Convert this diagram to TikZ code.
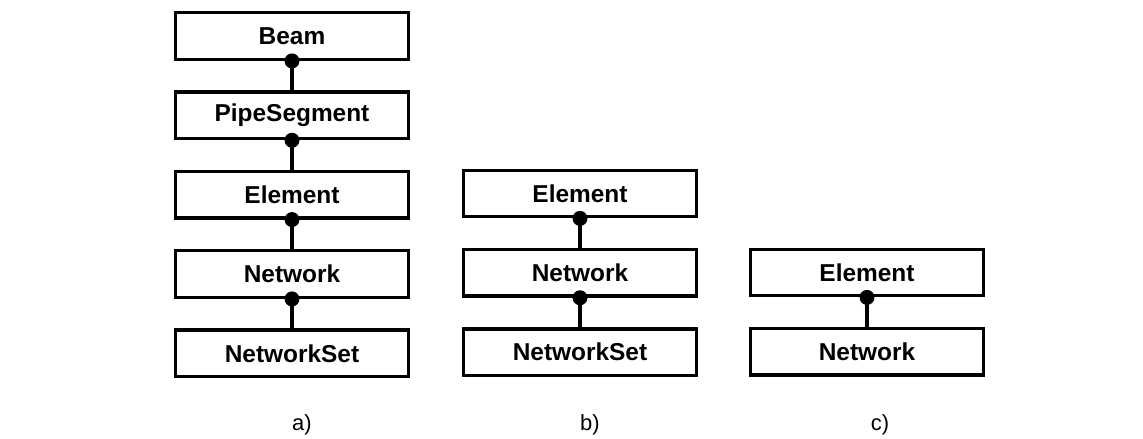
\documentclass[tikz,border=0pt]{standalone}
\usepackage{fontspec}
\setmainfont{Liberation Sans}
\usetikzlibrary{positioning}
\begin{document}
\begin{tikzpicture}[line width=1.9pt,node distance=0.59cm,
  cls/.style={draw,minimum width=4.66cm,minimum height=0.93cm,inner sep=0pt,
    font=\fontsize{13.9}{16}\selectfont\bfseries},
  caption/.style={font=\fontsize{12.5}{15}\selectfont}]
  \def\link#1#2{\draw (#1.south) -- (#2.north); \fill (#1.south) circle (0.15);}
  \useasboundingbox (0,0) rectangle (22.86,-8.78);

  % a)
  \node[cls] (beam) at (5.84,-0.72) {Beam};
  \node[cls,below=of beam] (pipe) {PipeSegment};
  \node[cls,below=of pipe] (elemA) {Element};
  \node[cls,below=of elemA] (netA) {Network};
  \node[cls,below=of netA] (setA) {NetworkSet};
  \link{beam}{pipe}
  \link{pipe}{elemA}
  \link{elemA}{netA}
  \link{netA}{setA}

  % b)
  \node[cls] (elemB) at (11.6,-3.87) {Element};
  \node[cls,below=of elemB] (netB) {Network};
  \node[cls,below=of netB] (setB) {NetworkSet};
  \link{elemB}{netB}
  \link{netB}{setB}

  % c)
  \node[cls] (elemC) at (17.34,-5.45) {Element};
  \node[cls,below=of elemC] (netC) {Network};
  \link{elemC}{netC}

  \node[caption] (capA) at (6.04,-8.5) {a)};
  \node[caption] (capB) at (11.8,-8.5) {b)};
  \node[caption] (capC) at (17.6,-8.5) {c)};
\end{tikzpicture}
\end{document}
